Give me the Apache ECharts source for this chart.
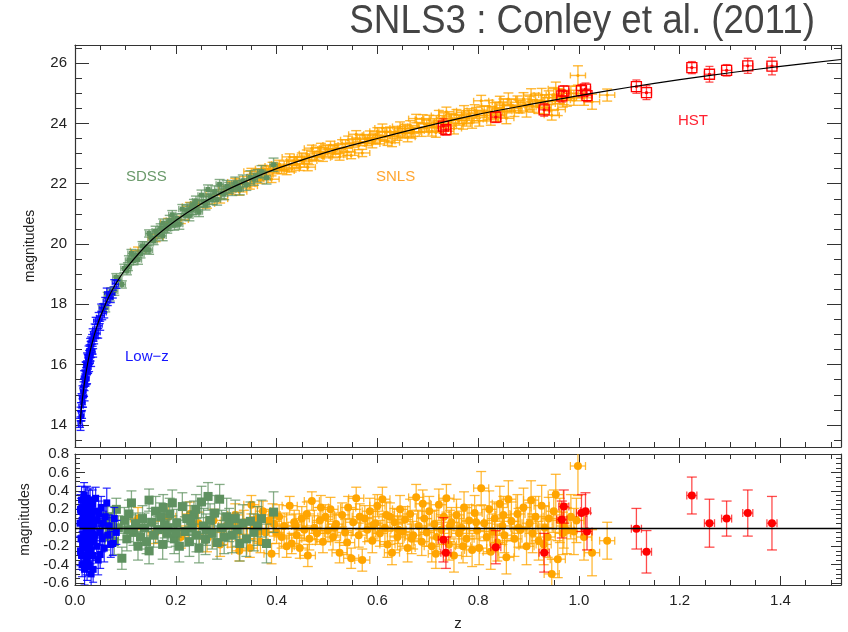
<!DOCTYPE html>
<html>
<head>
<meta charset="utf-8">
<script src="https://cdn.jsdelivr.net/npm/echarts@6/dist/echarts.min.js"></script>
<style>
  html, body { margin: 0; padding: 0; background: #fff; }
  #chart { width: 848px; height: 632px; }
</style>
</head>
<body>
<div id="chart"></div>
<script>
// axis ranges and ticks
const zRange = [0, 1.52];
const magRange = [13.27, 26.6];
const resRange = [-0.62, 0.8];
const zTicks = [0, 0.2, 0.4, 0.6, 0.8, 1.0, 1.2, 1.4];
const magTicks = [14, 16, 18, 20, 22, 24, 26];
const resTicks = [-0.6, -0.4, -0.2, 0, 0.2, 0.4, 0.6, 0.8];

// model curve
const curveZ = [0.010, 0.012, 0.015, 0.020, 0.025, 0.030, 0.035, 0.040, 0.050, 0.060, 0.070, 0.080, 0.100, 0.150, 0.200, 0.250, 0.300, 0.350, 0.400, 0.500, 0.600, 0.700, 0.800, 0.900, 1.000, 1.100, 1.200, 1.300, 1.400, 1.520];
const curveMag = [14.02, 14.42, 14.91, 15.54, 16.03, 16.44, 16.78, 17.08, 17.58, 17.99, 18.35, 18.65, 19.16, 20.10, 20.78, 21.33, 21.78, 22.16, 22.50, 23.05, 23.50, 23.92, 24.30, 24.62, 24.92, 25.20, 25.45, 25.68, 25.89, 26.12];

// redshift errors (half widths) per sample
const zErrLow = 0.004, zErrSdss = 0.007, zErrSnls = 0.015, zErrHst = 0.01;

// rows: z, magnitude, residual, error
const lowZ = [
  [0.010,14.07,0.05,0.15],[0.011,13.98,-0.25,0.16],[0.012,14.60,0.18,0.14],[0.012,14.30,-0.12,0.17],
  [0.013,14.89,0.30,0.15],[0.014,14.35,-0.40,0.13],[0.014,14.83,0.08,0.16],[0.015,14.73,-0.18,0.14],
  [0.015,15.13,0.22,0.17],[0.016,15.07,0.02,0.15],[0.016,14.75,-0.30,0.16],[0.017,15.30,0.12,0.13],
  [0.017,15.10,-0.08,0.15],[0.018,15.66,0.35,0.14],[0.018,15.11,-0.20,0.16],[0.019,15.47,0.05,0.15],
  [0.019,14.97,-0.45,0.17],[0.020,15.69,0.15,0.13],[0.020,15.44,-0.10,0.15],[0.021,15.93,0.28,0.16],
  [0.021,15.43,-0.22,0.14],[0.022,15.75,0.00,0.15],[0.022,15.95,0.20,0.13],[0.023,15.50,-0.35,0.16],
  [0.023,15.95,0.10,0.14],[0.024,15.89,-0.05,0.15],[0.024,16.26,0.32,0.13],[0.025,15.88,-0.15,0.16],
  [0.025,16.21,0.18,0.14],[0.026,16.18,0.06,0.15],[0.026,15.84,-0.28,0.13],[0.027,16.46,0.25,0.16],
  [0.027,16.09,-0.12,0.14],[0.028,16.32,0.03,0.15],[0.028,15.89,-0.40,0.12],[0.029,16.50,0.14,0.16],
  [0.029,16.18,-0.18,0.14],[0.030,16.74,0.30,0.13],[0.030,16.38,-0.06,0.15],[0.031,16.26,-0.25,0.14],
  [0.031,16.61,0.10,0.16],[0.032,16.79,0.20,0.13],[0.032,16.09,-0.50,0.15],[0.033,16.63,-0.02,0.14],
  [0.034,16.84,0.12,0.16],[0.035,16.48,-0.30,0.13],[0.035,17.04,0.26,0.15],[0.036,16.39,-0.45,0.14],
  [0.037,16.94,0.04,0.16],[0.038,16.82,-0.15,0.13],[0.039,17.20,0.18,0.15],[0.040,17.00,-0.08,0.14],
  [0.041,17.45,0.32,0.12],[0.043,17.04,-0.20,0.15],[0.044,17.38,0.08,0.13],[0.046,17.04,-0.35,0.16],
  [0.047,17.59,0.15,0.14],[0.049,17.49,-0.05,0.13],[0.050,17.29,-0.29,0.15],[0.052,17.89,0.22,0.12],
  [0.054,17.63,-0.12,0.14],[0.056,17.89,0.05,0.13],[0.058,17.70,-0.22,0.15],[0.060,18.11,0.12,0.12],
  [0.063,18.38,0.27,0.16],[0.065,18.09,-0.08,0.13],[0.068,18.30,0.02,0.12],[0.071,18.20,-0.18,0.14],
  [0.075,18.34,-0.17,0.13],[0.078,18.70,0.10,0.12],[0.082,18.66,-0.05,0.13],[0.013,14.29,-0.30,0.15],
  [0.011,14.43,0.20,0.16],[0.018,15.41,0.10,0.14],[0.024,15.52,-0.42,0.15]
];

const sdss = [
  [0.055,17.84,0.05,0.12],[0.060,17.89,-0.10,0.14],[0.065,18.29,0.12,0.11],[0.069,18.24,-0.07,0.13],
  [0.072,18.43,0.02,0.12],[0.078,18.44,-0.15,0.14],[0.082,18.90,0.20,0.12],[0.086,18.81,0.00,0.13],
  [0.093,18.66,-0.33,0.12],[0.098,19.19,0.08,0.14],[0.103,19.11,-0.12,0.13],[0.107,19.46,0.15,0.15],
  [0.112,19.69,0.27,0.13],[0.116,19.45,-0.05,0.14],[0.120,19.62,0.04,0.12],[0.125,19.48,-0.20,0.15],
  [0.130,19.67,-0.10,0.13],[0.134,19.94,0.10,0.14],[0.138,19.91,0.00,0.16],[0.142,19.82,-0.15,0.13],
  [0.147,20.35,0.30,0.12],[0.147,19.80,-0.25,0.14],[0.152,20.19,0.06,0.15],[0.156,20.11,-0.08,0.13],
  [0.160,20.43,0.18,0.16],[0.165,20.31,-0.02,0.14],[0.170,20.52,0.12,0.15],[0.174,20.27,-0.18,0.16],
  [0.178,20.53,0.03,0.14],[0.183,20.51,-0.06,0.15],[0.188,20.78,0.15,0.17],[0.193,20.97,0.27,0.14],
  [0.197,20.62,-0.12,0.16],[0.202,20.85,0.05,0.15],[0.207,20.66,-0.20,0.17],[0.213,21.16,0.23,0.15],
  [0.218,20.95,-0.04,0.16],[0.222,21.11,0.10,0.18],[0.227,20.93,-0.15,0.16],[0.232,21.14,0.00,0.17],
  [0.236,21.33,0.14,0.15],[0.241,21.16,-0.08,0.18],[0.246,21.07,-0.22,0.16],[0.251,21.62,0.28,0.17],
  [0.255,21.40,0.02,0.19],[0.259,21.30,-0.12,0.17],[0.264,21.81,0.34,0.15],[0.268,21.58,0.08,0.18],
  [0.272,21.48,-0.06,0.17],[0.277,21.74,0.16,0.19],[0.282,21.47,-0.16,0.18],[0.287,21.98,0.31,0.16],
  [0.291,21.70,0.00,0.19],[0.296,21.65,-0.10,0.18],[0.301,21.91,0.12,0.20],[0.306,21.86,0.03,0.18],
  [0.312,21.80,-0.08,0.19],[0.318,22.02,0.10,0.20],[0.322,21.93,-0.02,0.18],[0.327,21.82,-0.17,0.19],
  [0.333,22.09,0.05,0.20],[0.340,21.97,-0.12,0.19],[0.348,22.22,0.07,0.21],[0.355,22.15,-0.05,0.20],
  [0.362,22.26,0.02,0.21],[0.370,22.40,0.10,0.20],[0.380,22.20,-0.17,0.21],[0.394,22.63,0.17,0.22],
  [0.105,19.25,-0.02,0.13],[0.185,20.60,0.00,0.15],[0.240,21.43,0.20,0.16],[0.260,21.41,-0.02,0.17],
  [0.200,20.73,-0.05,0.15],[0.230,21.20,0.08,0.16],[0.175,20.69,0.22,0.14]
];

const snls = [
  [0.125,19.78,0.10,0.12],[0.160,20.20,-0.05,0.12],[0.185,20.72,0.12,0.13],[0.210,20.80,-0.10,0.12],
  [0.228,21.25,0.15,0.13],[0.245,21.33,0.05,0.12],[0.262,21.33,-0.12,0.14],[0.275,21.64,0.08,0.12],
  [0.288,21.49,-0.18,0.13],[0.300,21.80,0.02,0.12],[0.310,21.78,-0.08,0.13],[0.318,22.06,0.14,0.12],
  [0.326,21.73,-0.25,0.11],[0.335,22.11,0.06,0.13],[0.342,21.98,-0.12,0.12],[0.347,21.92,-0.22,0.10],
  [0.350,22.41,0.25,0.10],[0.356,22.20,0.00,0.12],[0.362,22.34,0.10,0.13],[0.368,22.13,-0.15,0.12],
  [0.373,22.50,0.18,0.11],[0.378,22.30,-0.05,0.13],[0.384,22.47,0.08,0.12],[0.390,22.15,-0.28,0.11],
  [0.395,22.51,0.04,0.13],[0.400,22.45,-0.05,0.12],[0.405,22.65,0.12,0.13],[0.410,22.46,-0.10,0.12],
  [0.415,22.61,0.02,0.14],[0.420,22.42,-0.20,0.12],[0.426,22.89,0.24,0.10],[0.430,22.50,-0.17,0.11],
  [0.435,22.76,0.06,0.13],[0.440,22.65,-0.08,0.12],[0.446,22.55,-0.22,0.11],[0.450,22.89,0.10,0.13],
  [0.455,22.80,-0.02,0.12],[0.460,22.99,0.15,0.13],[0.465,22.75,-0.12,0.12],[0.470,23.18,0.29,0.10],
  [0.475,22.92,0.00,0.13],[0.480,22.89,-0.06,0.12],[0.486,23.06,0.08,0.14],[0.492,22.86,-0.15,0.12],
  [0.497,23.15,0.12,0.13],[0.502,23.03,-0.03,0.12],[0.507,23.28,0.20,0.13],[0.512,23.00,-0.10,0.14],
  [0.518,23.17,0.04,0.12],[0.525,22.89,-0.27,0.11],[0.530,23.33,0.14,0.13],[0.536,23.17,-0.05,0.14],
  [0.542,23.46,0.22,0.12],[0.548,22.94,-0.33,0.11],[0.552,23.35,0.06,0.14],[0.558,23.64,0.32,0.12],
  [0.563,23.26,-0.08,0.13],[0.570,23.02,-0.35,0.12],[0.575,23.49,0.10,0.14],[0.580,23.39,-0.02,0.13],
  [0.585,23.61,0.18,0.14],[0.590,23.32,-0.14,0.13],[0.596,23.53,0.05,0.15],[0.600,23.74,0.24,0.12],
  [0.605,23.46,-0.06,0.14],[0.610,23.85,0.31,0.13],[0.615,23.57,0.00,0.15],[0.620,23.41,-0.18,0.14],
  [0.625,23.73,0.12,0.15],[0.629,23.36,-0.27,0.13],[0.634,23.71,0.06,0.15],[0.640,23.58,-0.10,0.14],
  [0.645,23.90,0.20,0.15],[0.650,23.68,-0.04,0.16],[0.655,23.83,0.09,0.14],[0.660,23.54,-0.22,0.15],
  [0.665,23.93,0.15,0.16],[0.671,23.72,-0.08,0.15],[0.677,24.16,0.33,0.14],[0.682,23.87,0.02,0.16],
  [0.688,23.72,-0.15,0.15],[0.693,23.99,0.10,0.17],[0.698,23.86,-0.05,0.15],[0.703,24.11,0.18,0.16],
  [0.708,23.75,-0.20,0.17],[0.713,24.01,0.04,0.15],[0.718,23.89,-0.10,0.16],[0.722,24.26,0.25,0.17],
  [0.727,24.01,-0.02,0.16],[0.732,24.17,0.12,0.18],[0.737,24.39,0.32,0.15],[0.742,23.91,-0.18,0.17],
  [0.747,24.17,0.06,0.16],[0.752,23.83,-0.30,0.18],[0.757,24.29,0.14,0.17],[0.762,24.10,-0.06,0.16],
  [0.767,24.18,0.00,0.18],[0.772,24.42,0.22,0.17],[0.777,24.10,-0.12,0.19],[0.782,24.32,0.08,0.17],
  [0.788,24.02,-0.24,0.18],[0.793,24.43,0.16,0.19],[0.798,24.26,-0.03,0.17],[0.802,24.09,-0.22,0.18],
  [0.806,24.75,0.43,0.18],[0.812,24.39,0.05,0.19],[0.817,24.26,-0.10,0.18],[0.822,24.57,0.20,0.20],
  [0.828,24.36,-0.04,0.19],[0.833,24.51,0.10,0.18],[0.838,24.27,-0.16,0.20],[0.843,24.71,0.26,0.19],
  [0.848,24.48,0.02,0.20],[0.852,24.40,-0.08,0.19],[0.856,24.17,-0.32,0.18],[0.860,24.81,0.31,0.20],
  [0.866,24.59,0.07,0.21],[0.872,24.42,-0.12,0.19],[0.878,24.70,0.15,0.21],[0.884,24.55,-0.02,0.20],
  [0.890,24.81,0.22,0.21],[0.896,24.41,-0.20,0.20],[0.902,24.68,0.05,0.22],[0.908,24.58,-0.06,0.21],
  [0.914,24.78,0.12,0.22],[0.920,24.54,-0.14,0.21],[0.926,24.94,0.24,0.22],[0.932,24.72,0.00,0.23],
  [0.938,24.64,-0.10,0.22],[0.946,24.27,-0.50,0.16],[0.950,24.96,0.18,0.23],[0.954,25.15,0.36,0.22],
  [0.958,24.46,-0.34,0.20],[0.962,24.89,0.08,0.24],[0.968,24.77,-0.06,0.23],[0.976,24.82,-0.03,0.25],
  [0.984,25.00,0.12,0.24],[0.990,24.85,-0.04,0.25],[0.995,24.99,0.08,0.24],[0.998,25.59,0.67,0.32],
  [1.010,24.85,-0.10,0.25],[1.026,24.72,-0.27,0.25],[1.056,24.94,-0.14,0.20],[0.322,22.00,0.05,0.12],
  [0.365,22.22,-0.04,0.13],[0.392,22.59,0.14,0.12],[0.438,22.74,0.02,0.13],[0.462,22.55,-0.30,0.12],
  [0.488,23.21,0.22,0.13],[0.515,23.12,0.00,0.14],[0.540,23.07,-0.16,0.13],[0.565,23.47,0.12,0.14],
  [0.592,23.49,0.03,0.15],[0.618,23.72,0.14,0.14],[0.642,23.67,-0.02,0.15],[0.668,23.67,-0.12,0.16],
  [0.690,24.14,0.26,0.15],[0.716,23.70,-0.28,0.16],[0.744,24.12,0.02,0.17],[0.770,23.99,-0.20,0.18],
  [0.796,24.35,0.06,0.18],[0.825,24.13,-0.26,0.19],[0.850,24.61,0.14,0.20],[0.880,24.56,0.00,0.21],
  [0.905,24.94,0.30,0.21],[0.930,24.53,-0.18,0.22],[0.940,24.85,0.10,0.23],[0.970,24.86,0.02,0.24]
];

const hst = [
  [0.731,23.91,-0.13,0.24],[0.736,23.79,-0.27,0.17],[0.835,24.21,-0.21,0.18],[0.931,24.45,-0.27,0.21],
  [0.966,24.91,0.09,0.20],[0.970,25.07,0.23,0.18],[1.005,25.09,0.16,0.20],[1.013,25.14,0.18,0.20],
  [1.016,24.92,-0.04,0.20],[1.114,25.22,-0.01,0.22],[1.134,25.02,-0.26,0.23],[1.224,25.85,0.35,0.20],
  [1.259,25.63,0.05,0.26],[1.293,25.76,0.10,0.19],[1.335,25.91,0.16,0.25],[1.383,25.90,0.05,0.29]
];

const FONT = '"Liberation Sans", Arial, Helvetica, sans-serif';
const AXIS_COLOR = '#333';

function steps(a, b, s) {
  const out = [];
  for (let v = a; v <= b + 1e-9; v += s) out.push(Math.round(v * 1000) / 1000);
  return out;
}
const zMinor = steps(0, 1.5, 0.05);
const magMinor = steps(13.5, 26.5, 0.5);
const resMinor = steps(-0.6, 0.8, 0.05);

function axis(grid, pos, range, ticks, len, showLine, label) {
  return {
    type: 'value', gridIndex: grid, position: pos, min: range[0], max: range[1],
    axisLine: { show: showLine, onZero: false, lineStyle: { color: AXIS_COLOR, width: 1.2 } },
    axisTick: { show: true, inside: true, length: len, customValues: ticks, lineStyle: { color: AXIS_COLOR, width: 1 } },
    axisLabel: label || { show: false },
    splitLine: { show: false }
  };
}

const xAxes = [
  axis(0, 'bottom', zRange, zTicks, 9, true),
  axis(0, 'bottom', zRange, zMinor, 5, false),
  axis(0, 'top', zRange, zTicks, 9, true),
  axis(0, 'top', zRange, zMinor, 5, false),
  Object.assign(axis(1, 'bottom', zRange, zTicks, 9, true, {
    show: true, customValues: zTicks, formatter: v => v.toFixed(1),
    fontSize: 15, color: '#222', fontFamily: FONT, margin: 8
  }), { name: 'z', nameLocation: 'middle', nameGap: 31, nameTextStyle: { fontSize: 15, color: '#222', fontFamily: FONT } }),
  axis(1, 'bottom', zRange, zMinor, 5, false),
  axis(1, 'top', zRange, zTicks, 9, true),
  axis(1, 'top', zRange, zMinor, 5, false)
];

const yAxes = [
  Object.assign(axis(0, 'left', magRange, magTicks, 14, true, {
    show: true, customValues: magTicks, formatter: v => String(v),
    fontSize: 15, color: '#222', fontFamily: FONT, margin: 8
  }), { name: 'magnitudes', nameLocation: 'middle', nameGap: 38, nameTextStyle: { fontSize: 14, color: '#222', fontFamily: FONT } }),
  axis(0, 'left', magRange, magMinor, 7, false),
  axis(0, 'right', magRange, magTicks, 14, true),
  axis(0, 'right', magRange, magMinor, 7, false),
  Object.assign(axis(1, 'left', resRange, resTicks, 10, true, {
    show: true, customValues: resTicks, formatter: v => v.toFixed(1),
    fontSize: 15, color: '#222', fontFamily: FONT, margin: 6
  }), { name: 'magnitudes', nameLocation: 'middle', nameGap: 40, nameTextStyle: { fontSize: 14, color: '#222', fontFamily: FONT } }),
  axis(1, 'left', resRange, resMinor, 5, false),
  axis(1, 'right', resRange, resTicks, 10, true),
  axis(1, 'right', resRange, resMinor, 5, false)
];

// error bar + marker renderer
function errRender(st) {
  return function (params, api) {
    const x = api.value(0), y = api.value(1), e = api.value(2);
    const c = api.coord([x, y]);
    const t = api.coord([x, y + e]);
    const b = api.coord([x, y - e]);
    const l = api.coord([x - st.ex, y]);
    const r = api.coord([x + st.ex, y]);
    const ls = { stroke: st.bar, lineWidth: st.lw };
    const ch = [
      { type: 'line', shape: { x1: c[0], y1: t[1], x2: c[0], y2: b[1] }, style: ls },
      { type: 'line', shape: { x1: c[0] - st.cap, y1: t[1], x2: c[0] + st.cap, y2: t[1] }, style: ls },
      { type: 'line', shape: { x1: c[0] - st.cap, y1: b[1], x2: c[0] + st.cap, y2: b[1] }, style: ls }
    ];
    if (st.ex > 0) {
      ch.push({ type: 'line', shape: { x1: l[0], y1: c[1], x2: r[0], y2: c[1] }, style: ls });
      ch.push({ type: 'line', shape: { x1: l[0], y1: c[1] - st.hcap, x2: l[0], y2: c[1] + st.hcap }, style: ls });
      ch.push({ type: 'line', shape: { x1: r[0], y1: c[1] - st.hcap, x2: r[0], y2: c[1] + st.hcap }, style: ls });
    }
    const s = st.size;
    if (st.marker === 'square') {
      ch.push({ type: 'rect', shape: { x: c[0] - s / 2, y: c[1] - s / 2, width: s, height: s }, style: { fill: st.fill } });
    } else if (st.marker === 'open') {
      ch.push({ type: 'rect', shape: { x: c[0] - s / 2, y: c[1] - s / 2, width: s, height: s }, style: { fill: 'none', stroke: st.fill, lineWidth: 1.3 } });
      ch.push({ type: 'circle', shape: { cx: c[0], cy: c[1], r: 1.6 }, style: { fill: st.fill } });
    } else if (st.marker === 'circle') {
      ch.push({ type: 'circle', shape: { cx: c[0], cy: c[1], r: s / 2 }, style: { fill: st.fill } });
    }
    const cs = params.coordSys;
    return {
      type: 'group', children: ch,
      clipPath: { type: 'rect', shape: { x: cs.x, y: cs.y, width: cs.width, height: cs.height } }
    };
  };
}

function errSeries(rows, col, axisIdx, st) {
  return {
    type: 'custom', xAxisIndex: axisIdx, yAxisIndex: axisIdx, silent: true, animation: false,
    renderItem: errRender(st), encode: { x: 0, y: 1 },
    data: rows.map(d => [d[0], d[col], d[3]])
  };
}

const BLUE = '#0000ff', GREEN = '#5f9160', ORANGE = '#ffa500', RED = '#ff0000';
const BLUE_BAR = 'rgba(0,0,255,0.85)', GREEN_BAR = 'rgba(95,145,96,0.75)', ORANGE_BAR = 'rgba(255,165,0,0.78)', RED_BAR = 'rgba(255,0,0,0.7)';

const series = [
  // top panel
  errSeries(snls, 1, 0, { bar: ORANGE_BAR, lw: 1.4, cap: 5, ex: zErrSnls, hcap: 3, marker: 'circle', size: 3, fill: ORANGE }),
  errSeries(sdss, 1, 0, { bar: GREEN_BAR, lw: 1.4, cap: 5, ex: zErrSdss, hcap: 3, marker: 'square', size: 5, fill: GREEN }),
  errSeries(lowZ, 1, 0, { bar: BLUE_BAR, lw: 1.3, cap: 4, ex: zErrLow, hcap: 2, marker: 'none', size: 0, fill: BLUE }),
  {
    type: 'line', xAxisIndex: 0, yAxisIndex: 0, silent: true, animation: false, smooth: 0.3,
    symbol: 'none', lineStyle: { color: '#000', width: 1.2 },
    data: curveZ.map((z, i) => [z, curveMag[i]])
  },
  errSeries(hst, 1, 0, { bar: RED_BAR, lw: 1.3, cap: 4, ex: zErrHst, hcap: 3, marker: 'open', size: 10, fill: RED }),
  // bottom panel
  errSeries(snls, 2, 4, { bar: ORANGE_BAR, lw: 1.3, cap: 5, ex: zErrSnls, hcap: 4, marker: 'circle', size: 8, fill: ORANGE }),
  Object.assign(errSeries(sdss, 2, 4, { bar: GREEN_BAR, lw: 1.3, cap: 5, ex: zErrSdss, hcap: 4, marker: 'square', size: 9, fill: GREEN }), {
    markLine: { silent: true, symbol: 'none', animation: false, label: { show: false },
      lineStyle: { color: '#000', width: 1.3, type: 'solid' }, data: [{ yAxis: 0 }] }
  }),
  errSeries(lowZ, 2, 4, { bar: BLUE_BAR, lw: 1.2, cap: 4, ex: zErrLow, hcap: 3, marker: 'square', size: 7, fill: BLUE }),
  errSeries(hst, 2, 4, { bar: RED_BAR, lw: 1.3, cap: 5, ex: zErrHst, hcap: 4, marker: 'circle', size: 8, fill: RED })
];

function tag(text, left, top, color) {
  return { type: 'text', left: left, top: top, silent: true,
    style: { text: text, fill: color, font: '15px ' + FONT } };
}

const chart = echarts.init(document.getElementById('chart'), null, { renderer: 'canvas' });
chart.setOption({
  animation: false,
  backgroundColor: '#fff',
  grid: [
    { left: 75, top: 45, width: 766, height: 402 },
    { left: 75, top: 454, width: 766, height: 138 }
  ],
  xAxis: xAxes,
  yAxis: yAxes,
  series: series,
  graphic: [
    {
      type: 'text', x: 815, y: 2, scaleX: 0.92, originX: 0, silent: true,
      style: { text: 'SNLS3 : Conley et al. (2011)', fill: '#444', font: '40px ' + FONT, align: 'right', verticalAlign: 'top' }
    },
    tag('Low\u2212z', 125, 349, '#1515ff'),
    tag('SDSS', 126, 169, '#6a9a6a'),
    tag('SNLS', 376, 169, '#ffa530'),
    tag('HST', 678, 113, '#ff2030')
  ]
});
</script>
</body>
</html>
